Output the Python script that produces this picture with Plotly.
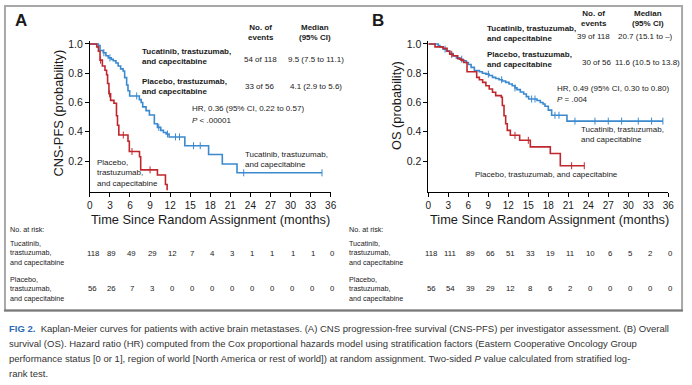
import plotly.graph_objects as go

W, H = 692, 385
def px(x): return x / W
def py(y): return 1 - y / H

BLUE = "#3b89cf"
RED = "#c0272d"
TXT = "#1a1a1a"
FONT = "Liberation Sans, Arial, sans-serif"

# ---------------- data ----------------
months = list(range(0, 37, 3))
tick_labels = [str(m) for m in months]
y_ticks = [0.2, 0.4, 0.6, 0.8, 1.0]
y_tick_labels = ["0.2", "0.4", "0.6", "0.8", "1.0"]

# Panel A: CNS-PFS
a_tuc_t = [0, 1.28, 1.52, 2.0, 2.4, 2.75, 3.2, 3.5, 3.9, 4.23, 4.6, 4.97, 5.2, 5.5, 5.7, 5.95,
           7.4, 7.67, 7.9, 8.4, 8.9, 9.64, 10.1, 10.6, 11.0, 11.4, 11.85, 14.2, 17.75, 19.8, 22.0, 34.7]
a_tuc_s = [1.0, 0.99, 0.955, 0.94, 0.92, 0.905, 0.895, 0.885, 0.87, 0.85, 0.83, 0.815, 0.77, 0.72, 0.68, 0.645,
           0.62, 0.60, 0.57, 0.545, 0.515, 0.455, 0.43, 0.41, 0.395, 0.385, 0.365, 0.305, 0.245, 0.18, 0.12, 0.12]
a_pla_t = [0, 1.03, 1.28, 1.52, 1.87, 2.26, 2.5, 2.65, 2.85, 3.1, 3.6, 3.98, 4.13, 4.33, 5.7, 5.9,
           7.42, 7.6, 10.1, 11.3, 11.55]
a_pla_s = [1.0, 0.98, 0.95, 0.89, 0.85, 0.82, 0.79, 0.73, 0.66, 0.615, 0.595, 0.51, 0.445, 0.378, 0.335, 0.265,
           0.23, 0.14, 0.105, 0.04, 0.0]
a_tuc_cens = [2.1, 3.0, 7.0, 10.3, 11.6, 12.8, 13.4, 15.5, 16.5, 23.0, 34.7]
a_pla_cens = [1.6, 2.95, 5.0, 6.3, 9.0]

# Panel B: OS
b_tuc_t = [0, 1.48, 1.73, 2.22, 2.71, 3.2, 3.7, 4.2, 4.69, 5.2, 5.67, 6.0, 6.41, 6.9, 7.65, 8.1, 8.63, 9.1,
           9.62, 10.1, 10.6, 11.1, 11.59, 12.1, 12.58, 13.0, 13.3, 13.8, 14.3, 14.7, 15.05, 16.3, 16.8,
           17.2, 17.5, 18.0, 18.5, 20.8, 35.2]
b_tuc_s = [1.0, 0.99, 0.98, 0.965, 0.952, 0.935, 0.918, 0.905, 0.896, 0.885, 0.873, 0.86, 0.84, 0.818, 0.81,
           0.80, 0.794, 0.785, 0.772, 0.764, 0.756, 0.747, 0.738, 0.727, 0.715, 0.70, 0.688, 0.672, 0.658,
           0.64, 0.624, 0.614, 0.60, 0.59, 0.575, 0.548, 0.513, 0.473, 0.473]
b_pla_t = [0, 0.99, 2.2, 2.8, 3.2, 3.7, 4.4, 4.9, 5.3, 5.8, 7.25, 7.65, 8.14, 8.63, 9.13, 9.62, 10.1,
           10.95, 11.1, 11.35, 11.6, 11.84, 12.3, 13.7, 15.3, 18.3, 19.8, 23.4]
b_pla_s = [1.0, 0.98, 0.97, 0.95, 0.93, 0.92, 0.90, 0.89, 0.873, 0.81, 0.772, 0.756, 0.738, 0.715, 0.692,
           0.67, 0.647, 0.636, 0.58, 0.51, 0.455, 0.41, 0.376, 0.342, 0.297, 0.252, 0.168, 0.168]
b_tuc_cens = [2.5, 5.0, 9.0, 11.0, 13.0, 15.5, 16.0, 19.0, 19.6, 22.0, 25.0, 27.0, 29.0, 31.5, 33.5, 35.2]
b_pla_cens = [3.5, 13.0, 15.0, 21.5, 23.4]

# Numbers at risk
a_risk_tuc = [118, 89, 49, 29, 12, 7, 4, 3, 1, 1, 1, 1, 0]
a_risk_pla = [56, 26, 7, 3, 0, 0, 0, 0, 0, 0, 0, 0, 0]
b_risk_tuc = [118, 111, 89, 66, 51, 33, 19, 11, 10, 6, 5, 2, 0]
b_risk_pla = [56, 54, 39, 29, 12, 8, 6, 2, 0, 0, 0, 0, 0]

# ---------------- figure ----------------
fig = go.Figure()

def step_at(tc, t, s):
    v = s[0]
    for ti, si in zip(t, s):
        if ti <= tc:
            v = si
    return v

def add_curve(t, s, cens, color, xa, ya):
    fig.add_trace(go.Scatter(x=t, y=s, mode="lines", line=dict(color=color, width=1.6, shape="hv"),
                             xaxis=xa, yaxis=ya, showlegend=False, hoverinfo="skip"))
    fig.add_trace(go.Scatter(x=cens, y=[step_at(c, t, s) for c in cens], mode="markers",
                             marker=dict(symbol="line-ns", size=5, line=dict(color=color, width=1)),
                             xaxis=xa, yaxis=ya, showlegend=False, hoverinfo="skip"))

add_curve(a_tuc_t, a_tuc_s, a_tuc_cens, BLUE, "x", "y")
add_curve(a_pla_t, a_pla_s, a_pla_cens, RED, "x", "y")
add_curve(b_tuc_t, b_tuc_s, b_tuc_cens, BLUE, "x2", "y2")
add_curve(b_pla_t, b_pla_s, b_pla_cens, RED, "x2", "y2")

ydom = [py(190.3), py(38.35)]
xcommon = dict(range=[0, 36], tickvals=months, ticktext=tick_labels, ticks="outside", ticklen=4,
               tickcolor="black", showline=True, linecolor="black", linewidth=1, showgrid=False,
               zeroline=False, tickfont=dict(family=FONT, size=10, color=TXT))
ycommon = dict(range=[-0.01, 1.02], tickvals=y_ticks, ticktext=y_tick_labels, ticks="outside", ticklen=4,
               tickcolor="black", showline=True, linecolor="black", linewidth=1, showgrid=False,
               zeroline=False, tickfont=dict(family=FONT, size=10.5, color=TXT), domain=ydom)

fig.update_layout(
    width=W, height=H, autosize=False, margin=dict(l=0, r=0, t=0, b=0),
    paper_bgcolor="white", plot_bgcolor="white",
    xaxis=dict(domain=[px(88), px(332)], anchor="y", **xcommon),
    yaxis=dict(anchor="x", **ycommon),
    xaxis2=dict(domain=[px(431), px(674)], anchor="y2", **xcommon),
    yaxis2=dict(anchor="x2", **ycommon),
)

ann = []
def T(x, y, text, size=8, bold=False, xanchor="left", align="left", color=TXT, angle=0):
    if bold:
        text = "<b>" + text.replace("<br>", "</b><br><b>") + "</b>"
    ann.append(dict(x=px(x), y=py(y), xref="paper", yref="paper", text=text, showarrow=False,
                    xanchor=xanchor, yanchor="middle", align=align, textangle=angle,
                    font=dict(family=FONT, size=size, color=color)))

# Panel letters
T(10, 18, "A", size=17, bold=True)
T(372, 18, "B", size=17, bold=True)

# Axis titles
T(56, 111, "CNS-PFS (probability)", size=12.8, xanchor="center", align="center", angle=-90)
T(398, 103, "OS (probability)", size=12.8, xanchor="center", align="center", angle=-90)
T(210, 218, "Time Since Random Assignment (months)", size=12.8, xanchor="center", align="center")
T(554, 218, "Time Since Random Assignment (months)", size=12.8, xanchor="center", align="center")

# Panel A legend table
T(261, 30, "No. of<br>events", bold=True, xanchor="center", align="center")
T(316, 30, "Median<br>(95% CI)", bold=True, xanchor="center", align="center")
T(139, 54, "Tucatinib, trastuzumab,<br>and capecitabine", bold=True)
T(261, 57, "54 of 118", xanchor="center", align="center")
T(317, 57, "9.5 (7.5 to 11.1)", xanchor="center", align="center")
T(139, 84, "Placebo, trastuzumab,<br>and capecitabine", bold=True)
T(260, 84, "33 of 56", xanchor="center", align="center")
T(317, 84, "4.1 (2.9 to 5.6)", xanchor="center", align="center")
T(189, 106, "HR, 0.36 (95% CI, 0.22 to 0.57)")
T(189, 118, "<i>P</i> < .00001")
T(243, 158, "Tucatinib, trastuzumab,<br>and capecitabine")
T(93, 171, "Placebo,<br>trastuzumab,<br>and capecitabine")

# Panel B legend table
T(599, 16, "No. of<br>events", bold=True, xanchor="center", align="center")
T(654, 16, "Median<br>(95% CI)", bold=True, xanchor="center", align="center")
T(488, 31, "Tucatinib, trastuzumab,<br>and capecitabine", bold=True)
T(598, 34, "39 of 118", xanchor="center", align="center")
T(651, 34, "20.7 (15.1 to \u2013)", xanchor="center", align="center")
T(488, 57, "Placebo, trastuzumab,<br>and capecitabine", bold=True)
T(601, 60, "30 of 56", xanchor="center", align="center")
T(653, 60, "11.6 (10.5 to 13.8)", xanchor="center", align="center")
T(559, 86, "HR, 0.49 (95% CI, 0.30 to 0.80)")
T(559, 97, "<i>P</i> = .004")
T(584, 133, "Tucatinib, trastuzumab,<br>and capecitabine")
T(476, 173, "Placebo, trastuzumab, and capecitabine")

# Risk tables
for x0, tuc, pla, xa in [(5, a_risk_tuc, a_risk_pla, "x"), (349, b_risk_tuc, b_risk_pla, "x2")]:
    T(x0, 228, "No. at risk:", size=7.2)
    T(x0, 252, "Tucatinib,<br>trastuzumab,<br>and capecitabine", size=7.2)
    T(x0, 288, "Placebo,<br>trastuzumab,<br>and capecitabine", size=7.2)
    for m, vt, vp in zip(months, tuc, pla):
        for v, yy in [(vt, 252), (vp, 288)]:
            ann.append(dict(x=m, y=py(yy), xref=xa, yref="paper", text=str(v), showarrow=False,
                            xanchor="center", yanchor="middle", xshift=3 if m == 0 else 2,
                            font=dict(family=FONT, size=7.8, color=TXT)))

# Caption
cap = [
    "<b><span style='color:#2a6ab5'>FIG 2.</span></b>  Kaplan-Meier curves for patients with active brain metastases. (A) CNS progression-free survival (CNS-PFS) per investigator assessment. (B) Overall",
    "survival (OS). Hazard ratio (HR) computed from the Cox proportional hazards model using stratification factors (Eastern Cooperative Oncology Group",
    "performance status [0 or 1], region of world [North America or rest of world]) at random assignment. Two-sided <i>P</i> value calculated from stratified log-",
    "rank test.",
]
for i, line in enumerate(cap):
    T(4, 328 + i * 15, line, size=9.5, color="#333333")

fig.update_layout(annotations=ann)

fig.add_shape(type="rect", xref="paper", yref="paper", x0=px(2), x1=px(688), y0=py(310), y1=py(3),
              line=dict(color="#a8a8a8", width=2), fillcolor="rgba(0,0,0,0)", layer="below")
fig.add_shape(type="line", xref="paper", yref="paper", x0=px(1), x1=px(689), y0=py(310), y1=py(310),
              line=dict(color="#7a7a7a", width=2))

fig.write_html("out.html", config={"displayModeBar": False},
               post_script="document.body.style.margin='0';document.body.style.overflow='hidden';")
